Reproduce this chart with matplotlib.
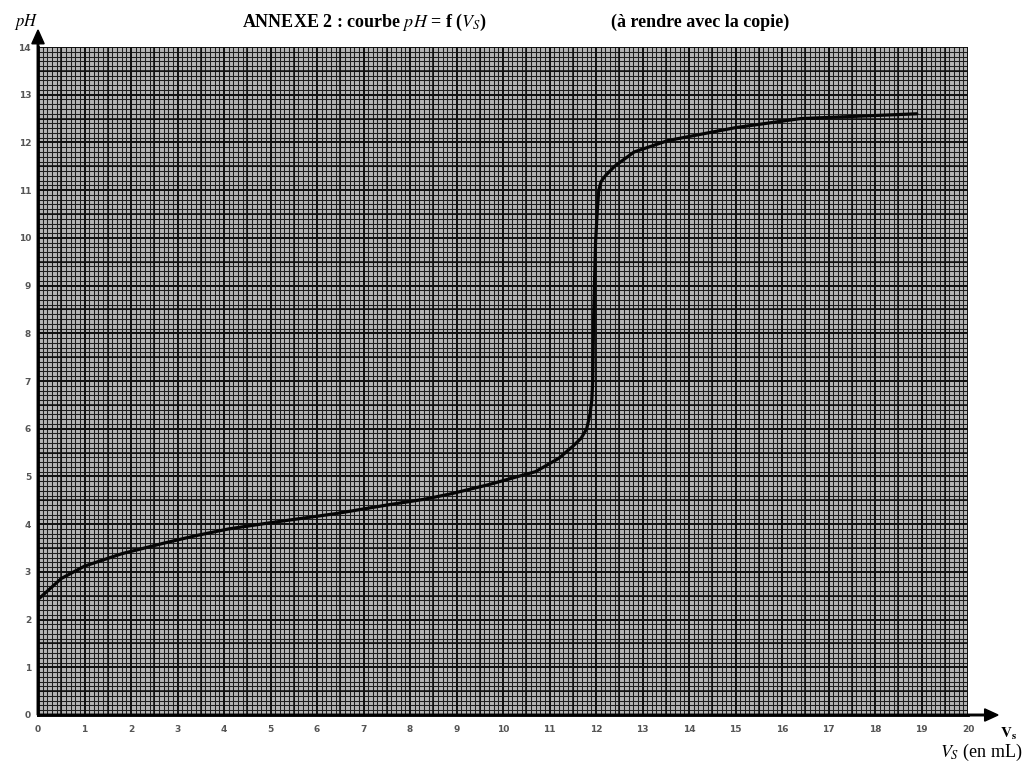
import numpy as np
import matplotlib
matplotlib.use("Agg")
import matplotlib.pyplot as plt
from matplotlib.ticker import MultipleLocator

# Data
vs_ml = [0.0, 0.5, 1.0, 1.8, 2.7, 3.4, 4.1, 5.0, 6.4, 7.5, 8.3, 8.9, 9.7, 10.4,
         10.7, 11.2, 11.5, 11.68, 11.8, 11.87, 11.91, 11.93, 11.95, 11.99, 12.03, 12.06,
         12.11, 12.2, 12.4, 12.82, 13.55, 15.0, 16.4, 17.9, 18.9]
ph = [2.42, 2.86, 3.12, 3.38, 3.6, 3.76, 3.9, 4.03, 4.22, 4.4, 4.52, 4.64, 4.83, 5.02,
      5.1, 5.38, 5.63, 5.8, 6.0, 6.3, 6.6, 7.0, 8.4, 9.9, 10.6, 11.0,
      11.18, 11.3, 11.5, 11.8, 12.04, 12.31, 12.5, 12.56, 12.6]

x_ticks = list(range(0, 21))
y_ticks = list(range(0, 15))

plt.rcParams['font.family'] = ['Liberation Serif', 'DejaVu Serif']
plt.rcParams['mathtext.fontset'] = 'stix'

fig = plt.figure(figsize=(10.26, 7.65), dpi=100)
ax = fig.add_axes([38/1026, 50/765, (968-38)/1026, (715-47)/765])
ax.set_xlim(0, 20)
ax.set_ylim(0, 14)
ax.set_facecolor('#b4b4b4')

# graph paper
ax.xaxis.set_minor_locator(MultipleLocator(0.1))
ax.yaxis.set_minor_locator(MultipleLocator(0.1))
ax.grid(which='minor', color='#1e1e1e', lw=0.75)
for v in np.arange(0, 20.01, 0.5):
    ax.axvline(v, color='#0e0e0e', lw=1.1 if v % 1 else 1.4, zorder=1)
for v in np.arange(0, 14.01, 0.5):
    ax.axhline(v, color='#0e0e0e', lw=1.1 if v % 1 else 1.4, zorder=1)
ax.set_axisbelow(True)

ax.plot(vs_ml, ph, color='#050505', lw=2.3, zorder=5, solid_capstyle='round',
        solid_joinstyle='round')

ax.set_xticks(x_ticks)
ax.set_yticks(y_ticks)
ax.set_xticklabels([str(t) for t in x_ticks], fontsize=6.5, color='#555555',
                   family=['DejaVu Sans'], fontweight='bold')
ax.set_yticklabels([str(t) for t in y_ticks], fontsize=6.5, color='#555555',
                   family=['DejaVu Sans'], fontweight='bold')
ax.tick_params(which='both', length=0, pad=7)
ax.tick_params(axis='y', pad=5)
for s in ax.spines.values():
    s.set_visible(False)
ax.spines['left'].set_visible(True)
ax.spines['bottom'].set_visible(True)
ax.spines['left'].set_linewidth(2)
ax.spines['bottom'].set_linewidth(2)

# axis arrows
fig.patches.append(matplotlib.patches.FancyArrow(38/1026, 50/765, 0, (765-30-50)/765,
                   width=0.0015, head_width=0.012, head_length=0.018, color='black',
                   transform=fig.transFigure, length_includes_head=True))
fig.patches.append(matplotlib.patches.FancyArrow(38/1026, 50/765, (998-38)/1026, 0,
                   width=0.002, head_width=0.016, head_length=0.013, color='black',
                   transform=fig.transFigure, length_includes_head=True))

fig.text(14/1026, 1 - 22/765, r'$\mathbf{\mathit{pH}}$', fontsize=12, ha='left', va='center')
fig.text(365/1026, 1 - 22/765, r'ANNEXE 2 : courbe $\mathbf{\mathit{pH}}$ = f ($\mathit{V_S}$)',
         fontsize=13, fontweight='bold', ha='center', va='center')
fig.text(700/1026, 1 - 22/765, '(à rendre avec la copie)', fontsize=13,
         fontweight='bold', ha='center', va='center')
fig.text(1000/1026, 1 - 734/765, r'$\mathbf{V_s}$', fontsize=11, ha='left', va='center')
fig.text(1022/1026, 1 - 752/765, r'$V_S$ (en mL)', fontsize=13, ha='right', va='center')

fig.savefig('out.png', dpi=100, facecolor='white')
